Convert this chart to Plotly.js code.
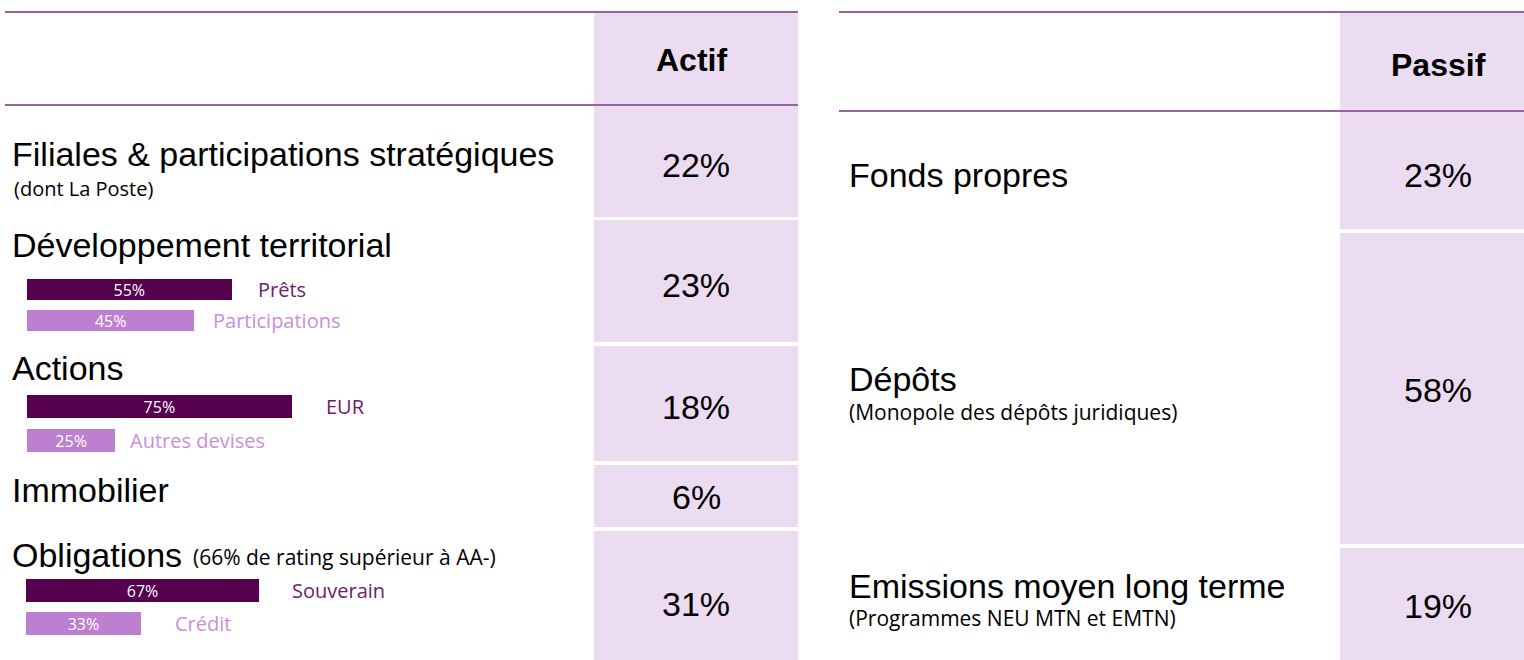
<!DOCTYPE html>
<html>
<head>
<meta charset="utf-8">
<script src="https://cdn.plot.ly/plotly-3.0.1.min.js"></script>
<style>html,body{margin:0;padding:0;background:#fff;}#chart{width:1524px;height:660px;}</style>
</head>
<body>
<div id="chart"></div>
<script>
// ---- data ----
const headers = ['Actif', 'Passif'];
const actifCategories = ['Filiales & participations stratégiques', 'Développement territorial', 'Actions', 'Immobilier', 'Obligations'];
const actifNotes = ['(dont La Poste)', '', '', '', '(66% de rating supérieur à AA-)'];
const actifValues = [22, 23, 18, 6, 31];
const passifCategories = ['Fonds propres', 'Dépôts', 'Emissions moyen long terme'];
const passifNotes = ['', '(Monopole des dépôts juridiques)', '(Programmes NEU MTN et EMTN)'];
const passifValues = [23, 58, 19];
const devLabels = ['Prêts', 'Participations'];
const devValues = [55, 45];
const actionsLabels = ['EUR', 'Autres devises'];
const actionsValues = [75, 25];
const obligLabels = ['Souverain', 'Crédit'];
const obligValues = [67, 33];

// ---- layout helpers (pixels -> paper) ----
const W = 1524, H = 660;
const X = p => p / W;
const Y = p => 1 - p / H;

const LINE = '#9a619f';
const CELL = '#ecdcf1';
const DARK = '#560050';
const LIGHT = '#bd7fd0';
const DARK_TXT = '#6e2069';
const LIGHT_TXT = '#c78fd9';
const HELV = 'Liberation Sans, Arial, sans-serif';
const SEGOE = 'Open Sans, Noto Sans, sans-serif';

const shapes = [];
const annotations = [];

// header lines
[[5, 798, 12], [5, 798, 105], [839, 1524, 12], [839, 1524, 111]].forEach(([x0, x1, y]) => {
  shapes.push({type: 'line', xref: 'paper', yref: 'paper', x0: X(x0), x1: X(x1), y0: Y(y), y1: Y(y),
    line: {color: LINE, width: 2}, layer: 'above'});
});

// lavender column cells
const leftCells = [[13, 217], [220, 342], [346, 461], [465, 527], [531, 660]];
const rightCells = [[13, 229], [233, 544], [548, 660]];
leftCells.forEach(([a, b]) => shapes.push({type: 'rect', xref: 'paper', yref: 'paper', x0: X(594), x1: X(798), y0: Y(b), y1: Y(a), fillcolor: CELL, line: {width: 0}, layer: 'below'}));
rightCells.forEach(([a, b]) => shapes.push({type: 'rect', xref: 'paper', yref: 'paper', x0: X(1340), x1: X(1524), y0: Y(b), y1: Y(a), fillcolor: CELL, line: {width: 0}, layer: 'below'}));

// headers
annotations.push({text: '<b>' + headers[0] + '</b>', xref: 'paper', yref: 'paper', x: X(691), y: Y(60), xanchor: 'center', yanchor: 'middle', showarrow: false, font: {family: HELV, size: 32, color: '#000'}});
annotations.push({text: '<b>' + headers[1] + '</b>', xref: 'paper', yref: 'paper', x: X(1438), y: Y(65), xanchor: 'center', yanchor: 'middle', showarrow: false, font: {family: HELV, size: 32, color: '#000'}});

// actif rows
const actifLabelY = [154, 245, 368, 490, 555];
const actifNoteY = [188, 0, 0, 0, 557];
const actifNoteX = [12, 0, 0, 0, 191];
const actifNoteSize = [20, 0, 0, 0, 21];
const actifValY = [165, 285, 407, 497, 604];
actifCategories.forEach((c, i) => {
  annotations.push({text: c, xref: 'paper', yref: 'paper', x: X(10), y: Y(actifLabelY[i]), xanchor: 'left', yanchor: 'middle', showarrow: false, font: {family: HELV, size: 34, color: '#000'}});
  if (actifNotes[i]) annotations.push({text: actifNotes[i], xref: 'paper', yref: 'paper', x: X(actifNoteX[i]), y: Y(actifNoteY[i]), xanchor: 'left', yanchor: 'middle', showarrow: false, font: {family: SEGOE, size: actifNoteSize[i], color: '#000'}});
  annotations.push({text: actifValues[i] + '%', xref: 'paper', yref: 'paper', x: X(696), y: Y(actifValY[i]), xanchor: 'center', yanchor: 'middle', showarrow: false, font: {family: HELV, size: 34, color: '#000'}});
});

// passif rows
const passifLabelY = [175, 379, 586];
const passifNoteY = [0, 412, 618];
const passifValY = [175, 390, 606];
passifCategories.forEach((c, i) => {
  annotations.push({text: c, xref: 'paper', yref: 'paper', x: X(847), y: Y(passifLabelY[i]), xanchor: 'left', yanchor: 'middle', showarrow: false, font: {family: HELV, size: 34, color: '#000'}});
  if (passifNotes[i]) annotations.push({text: passifNotes[i], xref: 'paper', yref: 'paper', x: X(847), y: Y(passifNoteY[i]), xanchor: 'left', yanchor: 'middle', showarrow: false, font: {family: SEGOE, size: 21, color: '#000'}});
  annotations.push({text: passifValues[i] + '%', xref: 'paper', yref: 'paper', x: X(1438), y: Y(passifValY[i]), xanchor: 'center', yanchor: 'middle', showarrow: false, font: {family: HELV, size: 34, color: '#000'}});
});

// sub-bar groups
const groups = [
  {labels: devLabels, values: devValues, x0: 27, pxPer: 3.72, y0: 274, y1: 336, width: 0.68, gaps: [24, 17]},
  {labels: actionsLabels, values: actionsValues, x0: 27, pxPer: 3.53, y0: 389.5, y1: 457.5, width: 0.68, gaps: [32, 13]},
  {labels: obligLabels, values: obligValues, x0: 26, pxPer: 3.48, y0: 574, y1: 640, width: 0.70, gaps: [31, 32]}
];

const traces = [];
const layout = {
  width: W, height: H,
  margin: {l: 0, r: 0, t: 0, b: 0},
  paper_bgcolor: '#fff', plot_bgcolor: 'rgba(0,0,0,0)',
  showlegend: false,
  shapes: shapes,
  annotations: annotations,
  bargap: 0
};

groups.forEach((g, k) => {
  const n = k + 1;
  const xa = 'x' + n, ya = 'y' + n;
  traces.push({
    type: 'bar', orientation: 'h',
    x: g.values, y: g.labels,
    xaxis: xa, yaxis: ya,
    width: g.width,
    marker: {color: [DARK, LIGHT], line: {width: 0}},
    text: g.values.map(v => v + '%'),
    textposition: 'inside', insidetextanchor: 'middle', textangle: 0,
    constraintext: 'none',
    textfont: {family: SEGOE, size: 16, color: '#fff'},
    hoverinfo: 'none', cliponaxis: false
  });
  layout['xaxis' + (n === 1 ? '' : n)] = {
    domain: [X(g.x0), X(g.x0 + 100 * g.pxPer)], range: [0, 100], visible: false, fixedrange: true,
    anchor: ya
  };
  layout['yaxis' + (n === 1 ? '' : n)] = {
    domain: [Y(g.y1), Y(g.y0)], type: 'category', categoryorder: 'array', categoryarray: g.labels,
    autorange: 'reversed', visible: false, fixedrange: true, anchor: xa
  };
  g.labels.forEach((lab, i) => {
    annotations.push({text: lab, xref: xa, yref: ya, x: g.values[i], y: lab, xanchor: 'left', yanchor: 'middle',
      xshift: g.gaps[i], showarrow: false, font: {family: SEGOE, size: 20, color: i === 0 ? DARK_TXT : LIGHT_TXT}});
  });
});

Plotly.newPlot('chart', traces, layout, {displayModeBar: false, staticPlot: true});
</script>
</body>
</html>
